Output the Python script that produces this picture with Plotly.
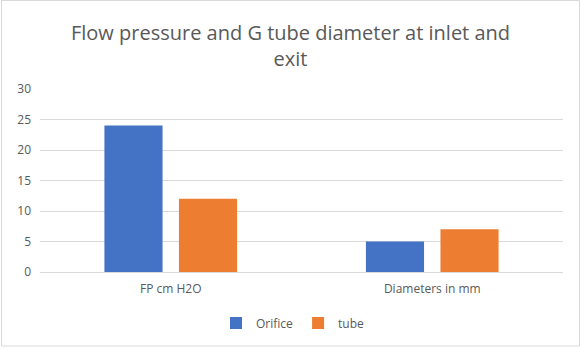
import plotly.graph_objects as go

categories = ["FP cm H2O", "Diameters in mm"]
orifice = [24, 5]
tube = [12, 7]

W, H = 581, 349
L, R, T, B = 40, 18, 89, 77
pw, ph = W - L - R, H - T - B

font = "Open Sans"
grey = "#595959"

fig = go.Figure()
fig.add_trace(go.Bar(name="Orifice", x=categories, y=orifice, marker=dict(color="#4472C4", line=dict(width=0))))
fig.add_trace(go.Bar(name="tube", x=categories, y=tube, marker=dict(color="#ED7D31", line=dict(width=0))))

fig.update_layout(
    width=W, height=H,
    margin=dict(l=L, r=R, t=T, b=B, autoexpand=False),
    paper_bgcolor="white", plot_bgcolor="white",
    barmode="group", bargap=0.43, bargroupgap=0.22,
    font=dict(family=font, color=grey, size=12),
    title=dict(text="Flow pressure and G tube diameter at inlet and<br>exit",
               x=0.5, xanchor="center", xref="container",
               y=1 - 40 / H, yanchor="middle", yref="container",
               font=dict(size=20, color=grey, family=font)),
    legend=dict(orientation="h", x=(293 - L) / pw, xanchor="center",
                y=-(323 - (T + ph)) / ph, yanchor="middle",
                font=dict(size=12, color=grey, family=font),
                itemwidth=30, traceorder="normal"),
    showlegend=True,
)
fig.update_yaxes(range=[0, 30], dtick=5, showgrid=True, gridcolor="#d9d9d9", gridwidth=1,
                 zeroline=False, showline=False, ticks="", ticklabelstandoff=8,
                 tickfont=dict(size=12, color=grey, family=font))
fig.update_xaxes(showline=True, linecolor="#d9d9d9", linewidth=1, ticks="", showgrid=False,
                 tickfont=dict(size=12, color=grey, family=font), ticklabelstandoff=6)

# outer chart border
fig.add_shape(type="rect", xref="paper", yref="paper",
              x0=(1.5 - L) / pw, x1=(W - 1.5 - L) / pw,
              y0=-(H - 3 - (T + ph)) / ph, y1=(T - 0.5) / ph + 1,
              line=dict(color="#d9d9d9", width=1), layer="below")

fig.write_html("out.html")
